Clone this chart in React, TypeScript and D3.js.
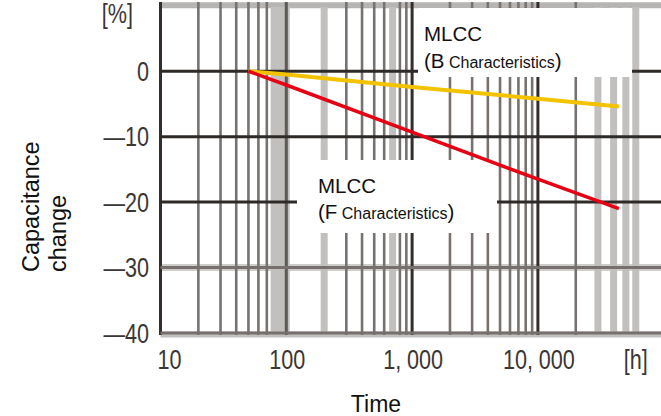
import React from "react";
import * as d3 from "d3";

// ---- data ----
const times = [50, 100, 1000, 10000, 44000]; // hours
const bChange = [0, -0.5, -2.4, -4.2, -5.4]; // MLCC B characteristics [%]
const fChange = [0, -2.1, -9.3, -16.5, -21.0]; // MLCC F characteristics [%]

const yTickValues = [0, -10, -20, -30, -40];
const yTickLabels = ["0", "—10", "—20", "—30", "—40"];
const xTickValues = [10, 100, 1000, 10000];
const xTickLabels = ["10", "100", "1,000", "10,000"];
const xUnitValue = 60000;

const majorVerticals = [10, 100, 1000, 10000];
const minorVerticals = [20, 30, 40, 50, 60, 70, 300, 400, 500, 600, 800, 900, 2000, 3000, 4000, 5000, 6000, 7000, 8000, 9000, 20000];
const lightVerticals = [80, 90, 100, 200, 700, 30000, 40000, 50000, 60000];
const darkHorizontals = [0, -10, -20];
const grayHorizontals = [-30, -40];

const W = 661;
const H = 416;

const x = d3.scaleLog().domain([10, 100000]).range([160.5, 663.7]);
const y = d3.scaleLinear().domain([-40, 10]).range([333, 5.8]);

const line = d3
  .line<number>()
  .x((_, i) => x(times[i]))
  .y((d) => y(d));

const sans = "'Liberation Sans', Arial, sans-serif";
const tickColor = "#3b3634";

function TickText({ tx, ty, anchor, children }: { tx: number; ty: number; anchor: string; children: React.ReactNode }) {
  return (
    <g transform={`translate(${tx},${ty}) scale(0.8,1)`}>
      <text x={0} y={0} textAnchor={anchor} fontFamily={sans} fontSize={27} fill={tickColor}>
        {children}
      </text>
    </g>
  );
}

function renderXLabel(lbl: string) {
  const idx = lbl.indexOf(",");
  if (idx < 0) return lbl;
  return (
    <>
      {lbl.slice(0, idx + 1)}
      <tspan dx={7}>{lbl.slice(idx + 1)}</tspan>
    </>
  );
}

export default function App() {
  const top = 2;
  const bottom = 335;
  return (
    <svg
      width={W}
      height={H}
      viewBox={`0 0 ${W} ${H}`}
      style={{ position: "absolute", left: 0, top: 0, display: "block", background: "#fff" }}
    >
      <rect x={0} y={0} width={W} height={H} fill="#fff" />
      {/* light horizontal bands */}
      <line x1={x(10)} x2={W} y1={y(10) - 0.5} y2={y(10) - 0.5} stroke="#b7b5b3" strokeWidth={6} />
      <line x1={x(10)} x2={W} y1={y(-30)} y2={y(-30)} stroke="#cfcdcb" strokeWidth={7} />
      <line x1={x(10)} x2={W} y1={y(-40) + 1.5} y2={y(-40) + 1.5} stroke="#c2c0be" strokeWidth={6} />

      {/* light vertical bands */}
      {lightVerticals.map((v) => (
        <line key={"l" + v} x1={x(v)} x2={x(v)} y1={top + 5} y2={bottom} stroke="#c2c0be" strokeWidth={7} />
      ))}
      {/* minor verticals */}
      {minorVerticals.map((v) => (
        <line key={"m" + v} x1={x(v)} x2={x(v)} y1={top} y2={bottom} stroke="#78726f" strokeWidth={2.6} />
      ))}
      {/* major verticals */}
      {majorVerticals.map((v) => (
        <line
          key={"M" + v}
          x1={x(v)}
          x2={x(v)}
          y1={top}
          y2={bottom}
          stroke={v === 100 ? "#5f5956" : "#332e2c"}
          strokeWidth={3}
        />
      ))}
      {/* horizontals */}
      {grayHorizontals.map((v) => (
        <line key={"g" + v} x1={x(10)} x2={W} y1={y(v)} y2={y(v)} stroke="#75706d" strokeWidth={3} />
      ))}
      {darkHorizontals.map((v) => (
        <line key={"d" + v} x1={x(10)} x2={W} y1={y(v)} y2={y(v)} stroke="#2e2a28" strokeWidth={3} />
      ))}

      {/* label boxes */}
      <rect x={418} y={8} width={214} height={69} fill="#fff" />
      <rect x={297} y={160} width={200} height={73} fill="#fff" />

      {/* data lines */}
      <path d={line(bChange) || ""} fill="none" stroke="#f4c300" strokeWidth={4} />
      <path d={line(fChange) || ""} fill="none" stroke="#e60014" strokeWidth={3.5} />

      {/* series labels */}
      <g fontFamily={sans} fill="#111">
        <text x={424} y={41} fontSize={20.5}>MLCC</text>
        <text x={424} y={68}>
          <tspan fontSize={20.5}>(B</tspan>
          <tspan fontSize={16}> Characteristics</tspan>
          <tspan fontSize={20.5}>)</tspan>
        </text>
        <text x={318} y={193} fontSize={20.5}>MLCC</text>
        <text x={318} y={219}>
          <tspan fontSize={20.5}>(F</tspan>
          <tspan fontSize={16}> Characteristics</tspan>
          <tspan fontSize={20.5}>)</tspan>
        </text>
      </g>

      {/* y tick labels */}
      <TickText tx={133} ty={23} anchor="end">[%]</TickText>
      {yTickValues.map((v, i) => (
        <TickText key={"yt" + v} tx={149} ty={y(v) + 9.5} anchor="end">
          {yTickLabels[i]}
        </TickText>
      ))}
      {/* x tick labels */}
      {xTickValues.map((v, i) => (
        <TickText key={"xt" + v} tx={x(v) + (i === 0 ? 9 : 1)} ty={369} anchor="middle">
          {renderXLabel(xTickLabels[i])}
        </TickText>
      ))}
      <TickText tx={x(xUnitValue)} ty={369} anchor="middle">[h]</TickText>

      {/* axis titles */}
      <text x={376} y={412} textAnchor="middle" fontFamily={sans} fontSize={23} fill="#111">
        Time
      </text>
      <g fontFamily={sans} fontSize={23.5} fill="#111">
        <text transform="translate(39,272) rotate(-90)">Capacitance</text>
        <text transform="translate(66,272) rotate(-90)">change</text>
      </g>
    </svg>
  );
}
